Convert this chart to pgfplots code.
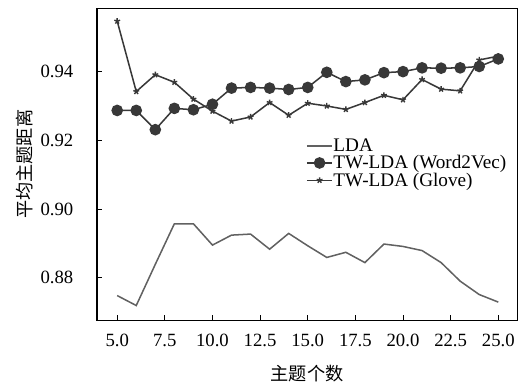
\documentclass[border=0pt]{standalone}
\usepackage{pgfplots}
\pgfplotsset{compat=1.18}
\usepackage{fontspec}
\setmainfont{Liberation Serif}
\newfontfamily\cjk{Noto Sans CJK SC}
\usetikzlibrary{plotmarks}
\definecolor{ldac}{gray}{0.38}
\definecolor{twc}{gray}{0.22}
\begin{document}
\begin{tikzpicture}
\path (0pt,-66pt) rectangle (0pt,317pt);
\begin{axis}[
  at={(96pt,0pt)},
  scale only axis,
  width=416pt, height=309pt,
  xmin=3.94, xmax=26.0,
  ymin=0.8676, ymax=0.9585,
  xtick={5,7.5,10,12.5,15,17.5,20,22.5,25},
  xticklabels={5.0,7.5,10.0,12.5,15.0,17.5,20.0,22.5,25.0},
  ytick={0.88,0.90,0.92,0.94},
  yticklabels={0.88,0.90,0.92,0.94},
  tick align=inside,
  major tick length=5pt,
  tick style={line width=0.8pt, black},
  axis line style={line width=1pt},
  xtick pos=bottom, ytick pos=left,
  ticklabel style={font=\fontsize{18.5}{20}\selectfont},
  yticklabel style={anchor=east, xshift=-20pt},
  xticklabel style={yshift=-10pt},
  xlabel={\cjk 主题个数},
  ylabel={\cjk 平均主题距离},
  label style={font=\fontsize{18}{20}\selectfont},
  xlabel style={at={(0.5,-0.1715)}, anchor=center},
  ylabel style={at={(-0.173,0.5)}, anchor=center},
  legend style={at={(0.49,0.59)}, anchor=north west, draw=none, fill=none,
    font=\fontsize{19}{19}\selectfont, row sep=1.5pt,
    nodes={inner sep=0.5pt}},
  legend cell align=left,
  legend image code/.code={
    \draw[mark repeat=2,mark phase=2,#1]
      plot coordinates {(0pt,0pt) (12.5pt,0pt) (25pt,0pt)};},
]
\addplot[ldac, line width=1.5pt, no markers] coordinates {
(5,0.8748) (6,0.8719) (7,0.8839) (8,0.8957) (9,0.8957) (10,0.8895)
(11,0.8924) (12,0.8927) (13,0.8883) (14,0.8929) (15,0.8893) (16,0.8859)
(17,0.8874) (18,0.8844) (19,0.8898) (20,0.8891) (21,0.8879) (22,0.8844)
(23,0.8790) (24,0.8751) (25,0.8729)};
\addlegendentry{LDA}
\addplot[twc, line width=1.5pt, mark=*, mark size=5pt, mark options={fill=twc, draw=twc}] coordinates {
(5,0.9287) (6,0.9287) (7,0.9231) (8,0.9293) (9,0.9289) (10,0.9305)
(11,0.9352) (12,0.9354) (13,0.9352) (14,0.9348) (15,0.9354) (16,0.9398)
(17,0.9371) (18,0.9376) (19,0.9397) (20,0.9400) (21,0.9411) (22,0.9410)
(23,0.9411) (24,0.9415) (25,0.9437)};
\addlegendentry{TW-LDA (Word2Vec)}
\addplot[twc, line width=1.5pt, mark=star, mark size=3pt, mark options={line width=1.4pt}] coordinates {
(5,0.9547) (6,0.9342) (7,0.9391) (8,0.9369) (9,0.9320) (10,0.9285)
(11,0.9256) (12,0.9268) (13,0.9310) (14,0.9273) (15,0.9308) (16,0.9300)
(17,0.9290) (18,0.9310) (19,0.9331) (20,0.9318) (21,0.9377) (22,0.9349)
(23,0.9344) (24,0.9434) (25,0.9445)};
\addlegendentry{TW-LDA (Glove)}
\end{axis}
\end{tikzpicture}
\end{document}
